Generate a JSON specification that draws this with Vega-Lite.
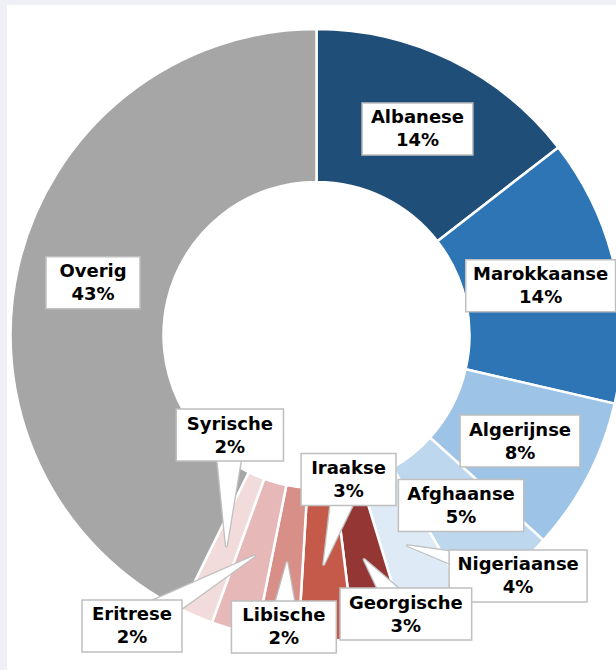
{
  "$schema": "https://vega.github.io/schema/vega-lite/v6.json",
  "width": 609,
  "height": 665,
  "autosize": {"type": "none"},
  "padding": {"left": 7, "top": 5, "right": 0, "bottom": 0},
  "background": "#eef0f6",
  "view": {"fill": "white", "stroke": null},
  "config": {"font": "DejaVu Sans"},
  "data": {
    "values": [
      {"name": "Albanese", "value": 14.5, "pct": "14%"},
      {"name": "Marokkaanse", "value": 14.1, "pct": "14%"},
      {"name": "Algerijnse", "value": 8.1, "pct": "8%"},
      {"name": "Afghaanse", "value": 5.0, "pct": "5%", "label_x": 0.474, "label_y": -0.559},
      {"name": "Nigeriaanse", "value": 3.6, "pct": "4%", "label_x": 0.661, "label_y": -0.79},
      {"name": "Georgische", "value": 2.75, "pct": "3%", "label_x": 0.293, "label_y": -0.915},
      {"name": "Iraakse", "value": 2.9, "pct": "3%", "label_x": 0.105, "label_y": -0.474},
      {"name": "Libische", "value": 2.2, "pct": "2%", "label_x": -0.107, "label_y": -0.957},
      {"name": "Eritrese", "value": 2.4, "pct": "2%", "label_x": -0.605, "label_y": -0.954},
      {"name": "Syrische", "value": 1.75, "pct": "2%", "label_x": -0.284, "label_y": -0.328},
      {"name": "Overig", "value": 42.7, "pct": "43%"}
    ]
  },
  "transform": [
    {"window": [{"op": "row_number", "as": "i"}, {"op": "sum", "field": "value", "as": "cum"}], "frame": [null, 0]},
    {"calculate": "(datum.cum - datum.value / 2) / 100 * 2 * PI", "as": "mid"},
    {"calculate": "0.7525 * sin(datum.mid)", "as": "tx"},
    {"calculate": "0.7525 * cos(datum.mid)", "as": "ty"},
    {"calculate": "isValid(datum.label_x) ? datum.label_x : datum.tx", "as": "lx"},
    {"calculate": "isValid(datum.label_y) ? datum.label_y : datum.ty", "as": "ly"},
    {"calculate": "length(datum.name)", "as": "n"},
    {"calculate": "datum.n - length(replace(datum.name, regexp('[ijlI]', 'g'), ''))", "as": "nn"},
    {"calculate": "datum.n - length(replace(datum.name, regexp('[rtf]', 'g'), ''))", "as": "nm"},
    {"calculate": "0.35 * datum.nn + 0.48 * datum.nm + 0.68 * (datum.n - datum.nn - datum.nm) + 0.1", "as": "em"},
    {"calculate": "max(datum.em * 18 + 17, 94) / 2 / 305", "as": "hw"},
    {"calculate": "datum.lx - datum.hw", "as": "bx1"},
    {"calculate": "datum.lx + datum.hw", "as": "bx2"},
    {"calculate": "datum.ly - 26 / 305", "as": "by1"},
    {"calculate": "datum.ly + 26 / 305", "as": "by2"}
  ],
  "layer": [
    {
      "mark": {"type": "arc", "outerRadius": 306, "innerRadius": 153, "stroke": "white", "strokeWidth": 2.5},
      "encoding": {
        "theta": {"field": "value", "type": "quantitative", "stack": true},
        "order": {"field": "i", "type": "quantitative"},
        "color": {
          "field": "name",
          "type": "nominal",
          "legend": null,
          "scale": {
            "domain": ["Albanese", "Marokkaanse", "Algerijnse", "Afghaanse", "Nigeriaanse", "Georgische", "Iraakse", "Libische", "Eritrese", "Syrische", "Overig"],
            "range": ["#1f4e79", "#2e75b6", "#9dc3e6", "#bdd7ee", "#deebf7", "#943634", "#c55a4b", "#d78f88", "#e6b8b7", "#f2dcdb", "#a6a6a6"]
          }
        },
        "x": {"datum": 0, "type": "quantitative", "scale": {"domain": [-1.01475, 0.98197], "nice": false, "zero": false}, "axis": null},
        "y": {"datum": 0, "type": "quantitative", "scale": {"domain": [-1.09836, 1.08197], "nice": false, "zero": false}, "axis": null}
      }
    },
    {
      "transform": [
        {"filter": "isValid(datum.label_x)"},
        {"calculate": "[0, 1]", "as": "pt"},
        {"flatten": ["pt"]},
        {"calculate": "datum.pt == 0 ? datum.lx : datum.tx", "as": "px"},
        {"calculate": "datum.pt == 0 ? datum.ly : datum.ty", "as": "py"},
        {"calculate": "datum.pt == 0 ? 33 : 3", "as": "sz"}
      ],
      "mark": {"type": "trail", "color": "#bfbfbf"},
      "encoding": {
        "x": {"field": "px", "type": "quantitative", "scale": {"domain": [-1.01475, 0.98197], "nice": false, "zero": false}, "axis": null},
        "y": {"field": "py", "type": "quantitative", "scale": {"domain": [-1.09836, 1.08197], "nice": false, "zero": false}, "axis": null},
        "size": {"field": "sz", "type": "quantitative", "scale": null, "legend": null},
        "detail": {"field": "name"},
        "order": {"field": "pt", "type": "quantitative"}
      }
    },
    {
      "transform": [
        {"filter": "isValid(datum.label_x)"},
        {"calculate": "[0, 1]", "as": "pt"},
        {"flatten": ["pt"]},
        {"calculate": "datum.pt == 0 ? datum.lx : datum.tx", "as": "px"},
        {"calculate": "datum.pt == 0 ? datum.ly : datum.ty", "as": "py"},
        {"calculate": "datum.pt == 0 ? 30 : 0.5", "as": "sz"}
      ],
      "mark": {"type": "trail", "color": "white"},
      "encoding": {
        "x": {"field": "px", "type": "quantitative", "scale": {"domain": [-1.01475, 0.98197], "nice": false, "zero": false}, "axis": null},
        "y": {"field": "py", "type": "quantitative", "scale": {"domain": [-1.09836, 1.08197], "nice": false, "zero": false}, "axis": null},
        "size": {"field": "sz", "type": "quantitative", "scale": null, "legend": null},
        "detail": {"field": "name"},
        "order": {"field": "pt", "type": "quantitative"}
      }
    },
    {
      "mark": {"type": "rect", "fill": "white", "stroke": "#bfbfbf", "strokeWidth": 1.5},
      "encoding": {
        "x": {"field": "bx1", "type": "quantitative", "scale": {"domain": [-1.01475, 0.98197], "nice": false, "zero": false}, "axis": null},
        "x2": {"field": "bx2"},
        "y": {"field": "by1", "type": "quantitative", "scale": {"domain": [-1.09836, 1.08197], "nice": false, "zero": false}, "axis": null},
        "y2": {"field": "by2"}
      }
    },
    {
      "mark": {"type": "text", "fontSize": 18, "fontWeight": "bold", "color": "black", "baseline": "middle", "align": "center", "dy": -10.5},
      "encoding": {
        "x": {"field": "lx", "type": "quantitative", "scale": {"domain": [-1.01475, 0.98197], "nice": false, "zero": false}, "axis": null},
        "y": {"field": "ly", "type": "quantitative", "scale": {"domain": [-1.09836, 1.08197], "nice": false, "zero": false}, "axis": null},
        "text": {"field": "name", "type": "nominal"}
      }
    },
    {
      "mark": {"type": "text", "fontSize": 18, "fontWeight": "bold", "color": "black", "baseline": "middle", "align": "center", "dy": 12.5},
      "encoding": {
        "x": {"field": "lx", "type": "quantitative", "scale": {"domain": [-1.01475, 0.98197], "nice": false, "zero": false}, "axis": null},
        "y": {"field": "ly", "type": "quantitative", "scale": {"domain": [-1.09836, 1.08197], "nice": false, "zero": false}, "axis": null},
        "text": {"field": "pct", "type": "nominal"}
      }
    }
  ]
}
